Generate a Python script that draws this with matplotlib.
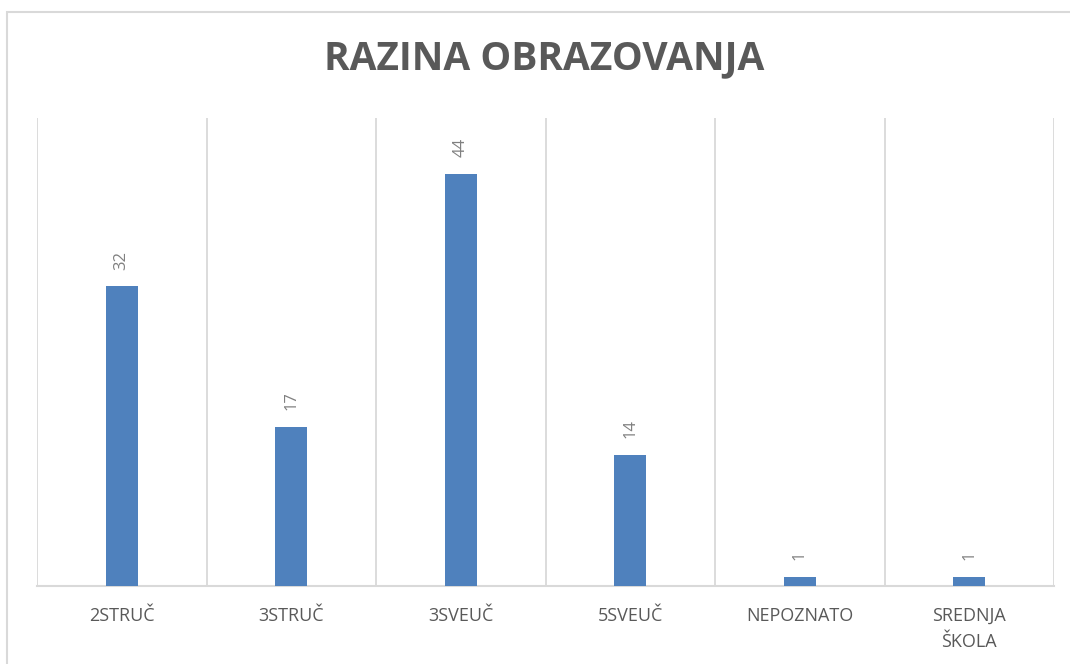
import matplotlib
matplotlib.use("Agg")
import matplotlib.pyplot as plt
from matplotlib.patches import Rectangle
import numpy as np

categories = ["2STRUČ", "3STRUČ", "3SVEUČ", "5SVEUČ", "NEPOZNATO", "SREDNJA\nŠKOLA"]
values = [32, 17, 44, 14, 1, 1]
title = "RAZINA OBRAZOVANJA"

W, H = 1070, 664
fig = plt.figure(figsize=(W / 100, H / 100), dpi=100)
fig.patch.set_facecolor("white")

# outer chart border (light gray)
fig.add_artist(Rectangle((7 / W, -0.05), 1.1, (H - 12) / H + 0.05, transform=fig.transFigure,
                         fill=False, edgecolor="#D9D9D9", linewidth=1.5))

ax = fig.add_axes([37 / W, (H - 586) / H, (1054 - 37) / W, (586 - 118) / H])
x = np.arange(len(categories))
ax.bar(x, values, width=0.19, color="#4F81BD", zorder=3)
ax.set_xlim(-0.5, len(categories) - 0.5)
ax.set_ylim(0, 50)

for xi, v in zip(x, values):
    ax.annotate(str(v), (xi, v), xytext=(0, 12), textcoords="offset points",
                rotation=90, ha="center", va="bottom", fontsize=12,
                color="#808080", family="Open Sans")

ax.set_xticks(x)
ax.set_xticklabels(categories, fontsize=13, color="#595959", family="Open Sans",
                   linespacing=1.55)
ax.tick_params(axis="x", length=0, pad=15)
ax.set_yticks([])
ax.set_xticks(np.arange(-0.5, len(categories)), minor=True)
ax.tick_params(axis="x", which="minor", length=0)
ax.grid(axis="x", which="minor", color="#D9D9D9", linewidth=1.3, zorder=0)
ax.grid(axis="x", which="major", visible=False)
for s in ["top", "left", "right"]:
    ax.spines[s].set_visible(False)
ax.spines["bottom"].set_color("#D9D9D9")
ax.spines["bottom"].set_linewidth(1.5)

fig.text((312 + 776) / 2 / W, 1 - 59 / H, title, ha="center", va="center",
         fontsize=28, fontweight="bold", color="#595959", family="Open Sans")

fig.savefig("out.png", dpi=100)
